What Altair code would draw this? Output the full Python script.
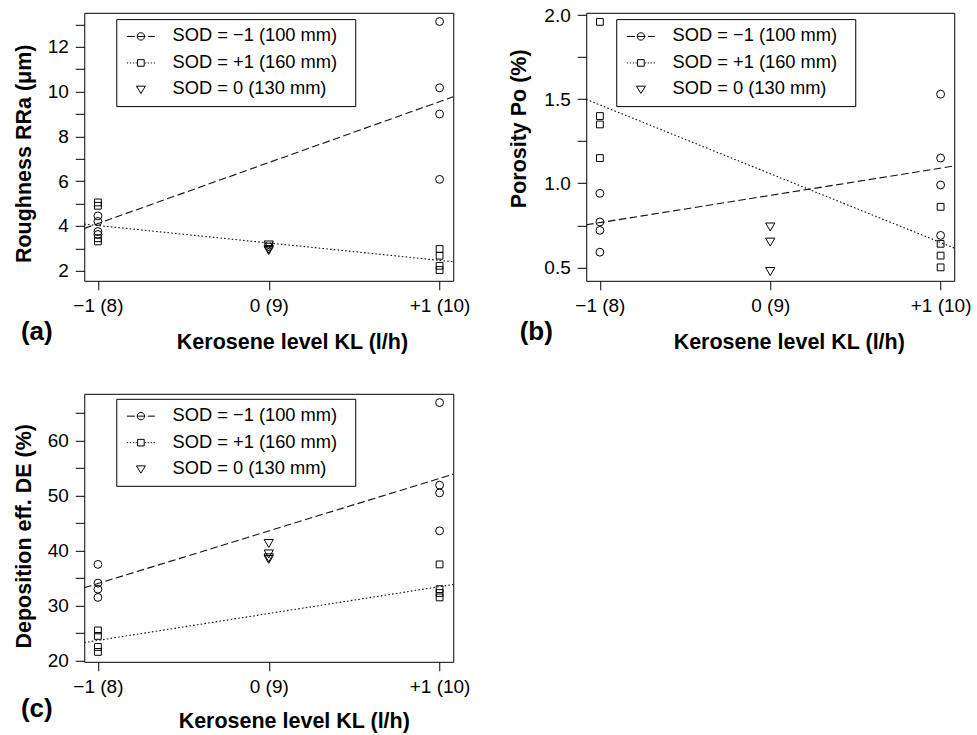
import altair as alt
import pandas as pd

FONT = "Liberation Sans"

# ---------------- data ----------------
x_ticks = [-1, 0, 1]
x_tick_labels = ["−1 (8)", "0 (9)", "+1 (10)"]
groups = ["SOD = −1 (100 mm)", "SOD = +1 (160 mm)", "SOD = 0 (130 mm)"]
x_title = "Kerosene level KL (l/h)"
fit_x = [-1.08, 1.08]

# (a) roughness
a_circ_lo = [4.45, 4.2, 3.75, 3.62]
a_circ_hi = [13.13, 10.17, 9.0, 6.08]
a_sq_lo = [5.05, 4.9, 3.45, 3.31]
a_sq_hi = [2.97, 2.67, 2.22, 2.03]
a_tri = [3.15, 3.05, 2.95, 2.9]
a_fit_circ = [3.89, 9.77]
a_fit_sq = [4.08, 2.40]
a_yticks = [2, 3, 4, 5, 6, 7, 8, 9, 10, 11, 12, 13]
a_ylabels = {2: "2", 4: "4", 6: "6", 8: "8", 10: "10", 12: "12"}

# (b) porosity
b_circ_lo = [0.94, 0.77, 0.72, 0.59]
b_circ_hi = [1.53, 1.15, 0.99, 0.69]
b_sq_lo = [1.96, 1.40, 1.35, 1.15]
b_sq_hi = [0.86, 0.64, 0.57, 0.50]
b_tri = [0.74, 0.65, 0.475]
b_fit_circ = [0.753, 1.103]
b_fit_sq = [1.499, 0.615]
b_yticks = [0.5, 0.75, 1.0, 1.25, 1.5, 1.75, 2.0]
b_ylabels = {0.5: "0.5", 1.0: "1.0", 1.5: "1.5", 2.0: "2.0"}

# (c) deposition efficiency
c_circ_lo = [37.5, 34.1, 33.0, 31.5]
c_circ_hi = [66.9, 51.9, 50.5, 43.6]
c_sq_lo = [25.5, 24.5, 22.5, 21.6]
c_sq_hi = [37.5, 33.0, 32.3, 31.5]
c_tri = [41.3, 39.4, 38.7, 38.4]
c_fit_circ = [33.25, 53.9]
c_fit_sq = [23.3, 33.85]
c_yticks = [20, 25, 30, 35, 40, 45, 50, 55, 60, 65]
c_ylabels = {20: "20", 30: "30", 40: "40", 50: "50", 60: "60"}

# ---------------- legend symbols (line + marker) ----------------
LEG_SIZE = 256           # symbol size -> unit of sqrt(size)/2 = 8 px
U = 8.0


def seg(a, b):
    return f"M{a / U:.3f},0L{b / U:.3f},0"


def circ(r):
    r = r / U
    return f"M{r:.3f},0A{r:.3f},{r:.3f} 0 1,1 {-r:.3f},0A{r:.3f},{r:.3f} 0 1,1 {r:.3f},0Z"


def sq(h):
    h = h / U
    return f"M{-h:.3f},{-h:.3f}L{h:.3f},{-h:.3f}L{h:.3f},{h:.3f}L{-h:.3f},{h:.3f}Z"


SYM_DASH_CIRCLE = seg(-14, -6) + seg(-3.5, 4.5) + seg(7, 14) + circ(3.7)
SYM_DOT_SQUARE = "".join(seg(p, p + 1.2) for p in [-14, -11, -8, -5.3, 4.1, 6.8, 9.8, 12.8]) + sq(3.3)
SYM_TRI = f"M{-4.5 / U:.3f},{-3.3 / U:.3f}L{4.5 / U:.3f},{-3.3 / U:.3f}L0,{4.0 / U:.3f}Z"


def label_expr(mapping):
    expr = "''"
    for v, lab in reversed(list(mapping.items())):
        expr = f"datum.value == {v} ? '{lab}' : ({expr})"
    return expr


x_label_expr = label_expr(dict(zip(x_ticks, x_tick_labels)))


def panel(circ_lo, circ_hi, sq_lo, sq_hi, tri, fit_c, fit_s, ydom, yticks,
          ylabels, ytitle, ytpos, xtpos, letter, letter_pos, leg_pos, width, height):
    rows = []
    for v in circ_lo:
        rows.append((-1, v, groups[0]))
    for v in circ_hi:
        rows.append((1, v, groups[0]))
    for v in sq_lo:
        rows.append((-1, v, groups[1]))
    for v in sq_hi:
        rows.append((1, v, groups[1]))
    for v in tri:
        rows.append((0, v, groups[2]))
    df = pd.DataFrame(rows, columns=["x", "y", "group"])
    lines = pd.DataFrame({
        "x": fit_x + fit_x,
        "y": fit_c + fit_s,
        "group": [groups[0]] * 2 + [groups[1]] * 2,
    })

    xenc = alt.X("x:Q", scale=alt.Scale(domain=[-1.08, 1.08], nice=False, zero=False),
                 axis=alt.Axis(values=x_ticks, labelExpr=x_label_expr, title=x_title,
                               titleX=xtpos[0], titleY=xtpos[1], titleBaseline="middle",
                               titleAnchor="middle", titleAlign="center"))
    yenc = alt.Y("y:Q", scale=alt.Scale(domain=ydom, nice=False, zero=False),
                 axis=alt.Axis(values=yticks, labelExpr=label_expr(ylabels), title=ytitle,
                               titleX=ytpos[0], titleY=ytpos[1], titleBaseline="middle",
                               titleAngle=270, titleAlign="center"))

    base = alt.Chart(df)
    layers = []
    shapes = ["circle", "square", "triangle-down"]
    sizes = [62, 46, 85]
    for g, sh, sz in zip(groups, shapes, sizes):
        layers.append(
            base.transform_filter(alt.datum.group == g)
            .mark_point(shape=sh, size=sz, filled=False, color="black", strokeWidth=1, opacity=1)
            .encode(x=xenc, y=yenc)
        )
    line_layer = alt.Chart(lines).mark_line(color="#111111", strokeWidth=1.1, clip=True).encode(
        x=xenc, y=yenc,
        strokeDash=alt.StrokeDash("group:N", scale=alt.Scale(domain=groups[:2], range=[[7.5, 3.5], [1.6, 2.2]]),
                                  legend=None),
    )
    legend_layer = base.transform_filter("false").mark_point(
        filled=False, color="black", strokeWidth=1, size=LEG_SIZE, opacity=1
    ).encode(
        x=xenc, y=yenc,
        shape=alt.Shape("group:N",
                        scale=alt.Scale(domain=groups, range=[SYM_DASH_CIRCLE, SYM_DOT_SQUARE, SYM_TRI]),
                        legend=alt.Legend(orient="none", legendX=leg_pos[0], legendY=leg_pos[1],
                                          direction="vertical",
                                          title="\u00a0", titleOrient="right", titlePadding=9,
                                          titleFontSize=4, titleColor="white",
                                          labelFont=FONT, labelFontSize=18.3, labelColor="black",
                                          symbolSize=LEG_SIZE, symbolStrokeWidth=1,
                                          symbolStrokeColor="black", symbolFillColor="transparent",
                                          padding=8.2, rowPadding=7.5, symbolOffset=7.3, labelOffset=22.5,
                                          strokeColor="black", fillColor="white", labelLimit=400)),
    )
    letter_layer = alt.Chart(pd.DataFrame({"t": [letter]})).mark_text(
        font=FONT, fontSize=26, fontWeight="bold", align="center", baseline="middle", color="black"
    ).encode(text="t:N", x=alt.value(letter_pos[0]), y=alt.value(letter_pos[1]))

    return alt.layer(line_layer, *layers, legend_layer, letter_layer).resolve_scale(
        shape="independent"
    ).properties(width=width, height=height)


pa = panel(a_circ_lo, a_circ_hi, a_sq_lo, a_sq_hi, a_tri, a_fit_circ, a_fit_sq,
           [1.55, 13.52], a_yticks, a_ylabels, "Roughness RRa (μm)",
           (-60, 140.5), (207.7, 62), "(a)", (-47.5, 319), (32, 6.3), 369, 268)
pb = panel(b_circ_lo, b_circ_hi, b_sq_lo, b_sq_hi, b_tri, b_fit_circ, b_fit_sq,
           [0.42, 2.014], b_yticks, b_ylabels, "Porosity Po (%)",
           (-66.5, 115.5), (202.5, 62), "(b)", (-50, 319), (30, 6.3), 368, 268)
pc = panel(c_circ_lo, c_circ_hi, c_sq_lo, c_sq_hi, c_tri, c_fit_circ, c_fit_sq,
           [19.8, 68.5], c_yticks, c_ylabels, "Deposition eff. DE (%)",
           (-60, 142), (209.5, 59.5), "(c)", (-47.5, 315), (32, 5), 369, 268)

chart = alt.concat(pa, pb, pc, columns=2, spacing={"row": 113, "column": 133}, bounds="flush").properties(
    padding={"left": 12.25, "top": 4.8, "right": 0, "bottom": 0}
).configure_view(
    stroke="black", strokeWidth=1
).configure_axis(
    labelFont=FONT, labelFontSize=19, labelColor="black",
    titleFont=FONT, titleFontSize=21.5, titleFontWeight="bold", titleColor="black",
    tickColor="black", tickSize=9, tickWidth=1, labelPadding=7,
    domain=False, grid=False, labelFlush=False, labelOverlap=False, labelBound=False
)

chart.save("out.html", embed_options={"renderer": "svg", "actions": False})
